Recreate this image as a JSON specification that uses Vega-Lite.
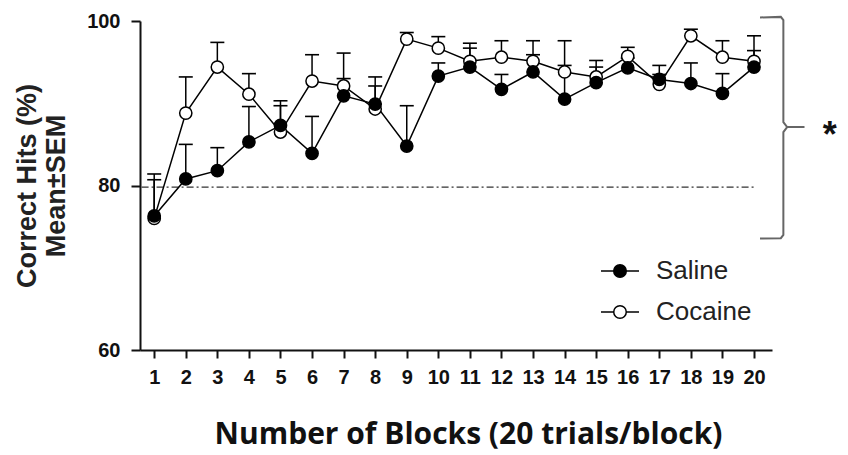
{
  "$schema": "https://vega.github.io/schema/vega-lite/v6.json",
  "width": 632,
  "height": 329,
  "autosize": {"type": "none"},
  "padding": {"left": 140, "top": 21, "right": 76, "bottom": 105},
  "background": "white",
  "config": {
    "view": {"stroke": null},
    "font": "Liberation Sans",
    "axis": {"grid": false, "labelOverlap": false, "domainColor": "#111", "domainWidth": 2, "tickColor": "#111", "tickWidth": 2},
    "axisX": {
      "labelOverlap": false, "labelBound": false, "labelFlush": false,
      "titleFont": "Open Sans", "titleFontSize": 30, "titleFontWeight": "bold", "titleColor": "#111", "titlePadding": 32,
      "labelFont": "Liberation Sans", "labelFontSize": 20, "labelFontWeight": "bold", "labelColor": "#111", "labelPadding": 9,
      "tickSize": 8
    },
    "axisY": {
      "titleFont": "Liberation Sans", "titleFontSize": 27, "titleFontWeight": "bold", "titleColor": "#222", "titlePadding": 16, "titleLineHeight": 29,
      "labelFont": "Liberation Sans", "labelFontSize": 20, "labelFontWeight": "bold", "labelColor": "#111", "labelPadding": 11,
      "tickSize": 9
    }
  },
  "datasets": {
    "hits": [
      {"block": 1, "group": "Saline", "mean": 76.3, "upper": 81.4},
      {"block": 2, "group": "Saline", "mean": 80.8, "upper": 85.0},
      {"block": 3, "group": "Saline", "mean": 81.8, "upper": 84.6},
      {"block": 4, "group": "Saline", "mean": 85.3, "upper": 89.6},
      {"block": 5, "group": "Saline", "mean": 87.3, "upper": 90.3},
      {"block": 6, "group": "Saline", "mean": 83.9, "upper": 88.4},
      {"block": 7, "group": "Saline", "mean": 90.9, "upper": 93.0},
      {"block": 8, "group": "Saline", "mean": 89.9, "upper": 93.2},
      {"block": 9, "group": "Saline", "mean": 84.8, "upper": 89.7},
      {"block": 10, "group": "Saline", "mean": 93.3, "upper": 94.9},
      {"block": 11, "group": "Saline", "mean": 94.4, "upper": 96.7},
      {"block": 12, "group": "Saline", "mean": 91.7, "upper": 93.5},
      {"block": 13, "group": "Saline", "mean": 93.8, "upper": 95.9},
      {"block": 14, "group": "Saline", "mean": 90.5, "upper": 97.6},
      {"block": 15, "group": "Saline", "mean": 92.5, "upper": 95.2},
      {"block": 16, "group": "Saline", "mean": 94.3, "upper": 95.5},
      {"block": 17, "group": "Saline", "mean": 92.9, "upper": 94.6},
      {"block": 18, "group": "Saline", "mean": 92.4, "upper": 94.9},
      {"block": 19, "group": "Saline", "mean": 91.2, "upper": 93.6},
      {"block": 20, "group": "Saline", "mean": 94.4, "upper": 96.4},
      {"block": 1, "group": "Cocaine", "mean": 76.0, "upper": 80.7},
      {"block": 2, "group": "Cocaine", "mean": 88.8, "upper": 93.2},
      {"block": 3, "group": "Cocaine", "mean": 94.4, "upper": 97.4},
      {"block": 4, "group": "Cocaine", "mean": 91.1, "upper": 93.6},
      {"block": 5, "group": "Cocaine", "mean": 86.5, "upper": 89.7},
      {"block": 6, "group": "Cocaine", "mean": 92.7, "upper": 95.9},
      {"block": 7, "group": "Cocaine", "mean": 92.1, "upper": 96.1},
      {"block": 8, "group": "Cocaine", "mean": 89.3, "upper": 92.1},
      {"block": 9, "group": "Cocaine", "mean": 97.8, "upper": 98.6},
      {"block": 10, "group": "Cocaine", "mean": 96.7, "upper": 98.1},
      {"block": 11, "group": "Cocaine", "mean": 95.1, "upper": 97.3},
      {"block": 12, "group": "Cocaine", "mean": 95.6, "upper": 97.6},
      {"block": 13, "group": "Cocaine", "mean": 95.1, "upper": 97.6},
      {"block": 14, "group": "Cocaine", "mean": 93.8, "upper": 94.6},
      {"block": 15, "group": "Cocaine", "mean": 93.2, "upper": 94.4},
      {"block": 16, "group": "Cocaine", "mean": 95.7, "upper": 96.8},
      {"block": 17, "group": "Cocaine", "mean": 92.3, "upper": 93.5},
      {"block": 18, "group": "Cocaine", "mean": 98.2, "upper": 99.0},
      {"block": 19, "group": "Cocaine", "mean": 95.6, "upper": 97.6},
      {"block": 20, "group": "Cocaine", "mean": 95.1, "upper": 98.2}
    ],
    "bracket": [
      {"ord": 1, "bx": 20.19, "by": 100.43},
      {"ord": 2, "bx": 20.85, "by": 100.5},
      {"ord": 3, "bx": 20.93, "by": 100.1},
      {"ord": 4, "bx": 20.93, "by": 87.7},
      {"ord": 5, "bx": 21.05, "by": 87.1},
      {"ord": 6, "bx": 21.6, "by": 87.1},
      {"ord": 7, "bx": 21.05, "by": 87.1},
      {"ord": 8, "bx": 20.93, "by": 86.5},
      {"ord": 9, "bx": 20.93, "by": 74.0},
      {"ord": 10, "bx": 20.85, "by": 73.6},
      {"ord": 11, "bx": 20.19, "by": 73.55}
    ],
    "refline": [{"x1": 0.6, "x2": 20.0, "y": 79.8}],
    "star": [{"sx": 22.4, "sy": 87.1, "label": "*"}]
  },
  "encoding": {
    "x": {"type": "quantitative", "scale": {"domain": [0.55, 20.57], "nice": false, "zero": false},
      "axis": {"values": [1,2,3,4,5,6,7,8,9,10,11,12,13,14,15,16,17,18,19,20], "labelOverlap": false, "title": "Number of Blocks (20 trials/block)", "titleX": 328}},
    "y": {"type": "quantitative", "scale": {"domain": [60, 100], "nice": false, "zero": false},
      "axis": {"values": [60, 80, 100], "title": ["Correct Hits (%)", "Mean±SEM"]}}
  },
  "layer": [
    {
      "data": {"name": "refline"},
      "mark": {"type": "rule", "color": "#333", "strokeWidth": 1.3, "strokeDash": [7, 3, 2, 3]},
      "encoding": {
        "x": {"field": "x1", "type": "quantitative"},
        "x2": {"field": "x2"},
        "y": {"field": "y", "type": "quantitative"}
      }
    },
    {
      "data": {"name": "hits"},
      "mark": {"type": "rule", "color": "black", "strokeWidth": 1.5},
      "encoding": {
        "x": {"field": "block", "type": "quantitative"},
        "y": {"field": "mean", "type": "quantitative"},
        "y2": {"field": "upper"},
        "detail": {"field": "group"}
      }
    },
    {
      "data": {"name": "hits"},
      "mark": {"type": "tick", "orient": "horizontal", "size": 14, "thickness": 1.6, "color": "black", "opacity": 1},
      "encoding": {
        "x": {"field": "block", "type": "quantitative"},
        "y": {"field": "upper", "type": "quantitative"},
        "detail": {"field": "group"}
      }
    },
    {
      "data": {"name": "hits"},
      "mark": {"type": "line", "color": "black", "strokeWidth": 1.5},
      "encoding": {
        "x": {"field": "block", "type": "quantitative"},
        "y": {"field": "mean", "type": "quantitative"},
        "detail": {"field": "group"}
      }
    },
    {
      "data": {"name": "hits"},
      "mark": {"type": "point", "shape": "circle", "filled": true, "stroke": "black", "strokeWidth": 1.5, "size": 150, "opacity": 1},
      "encoding": {
        "x": {"field": "block", "type": "quantitative"},
        "y": {"field": "mean", "type": "quantitative"},
        "order": {"field": "group", "sort": "ascending"},
        "fill": {"field": "group", "type": "nominal",
          "scale": {"domain": ["Saline", "Cocaine"], "range": ["black", "white"]},
          "legend": {
            "title": null, "orient": "none", "legendX": 460, "legendY": 230,
            "symbolType": "M-1,0H-0.33A0.33,0.33 0 1 1 0.33,0A0.33,0.33 0 1 1 -0.33,0M0.33,0H1",
            "symbolSize": 1444, "symbolStrokeColor": "black", "symbolStrokeWidth": 1.5, "symbolOpacity": 1,
            "labelFont": "Liberation Sans", "labelFontSize": 26, "labelColor": "#222", "labelOffset": 16, "rowPadding": 8
          }}
      }
    },
    {
      "data": {"name": "bracket"},
      "mark": {"type": "line", "color": "#666", "strokeWidth": 2, "clip": false},
      "encoding": {
        "x": {"field": "bx", "type": "quantitative"},
        "y": {"field": "by", "type": "quantitative"},
        "order": {"field": "ord"}
      }
    },
    {
      "data": {"name": "star"},
      "mark": {"type": "text", "fontSize": 36, "fontWeight": "bold", "font": "Liberation Sans", "color": "#111", "baseline": "middle", "dy": 9, "clip": false},
      "encoding": {
        "x": {"field": "sx", "type": "quantitative"},
        "y": {"field": "sy", "type": "quantitative"},
        "text": {"field": "label"}
      }
    }
  ]
}
